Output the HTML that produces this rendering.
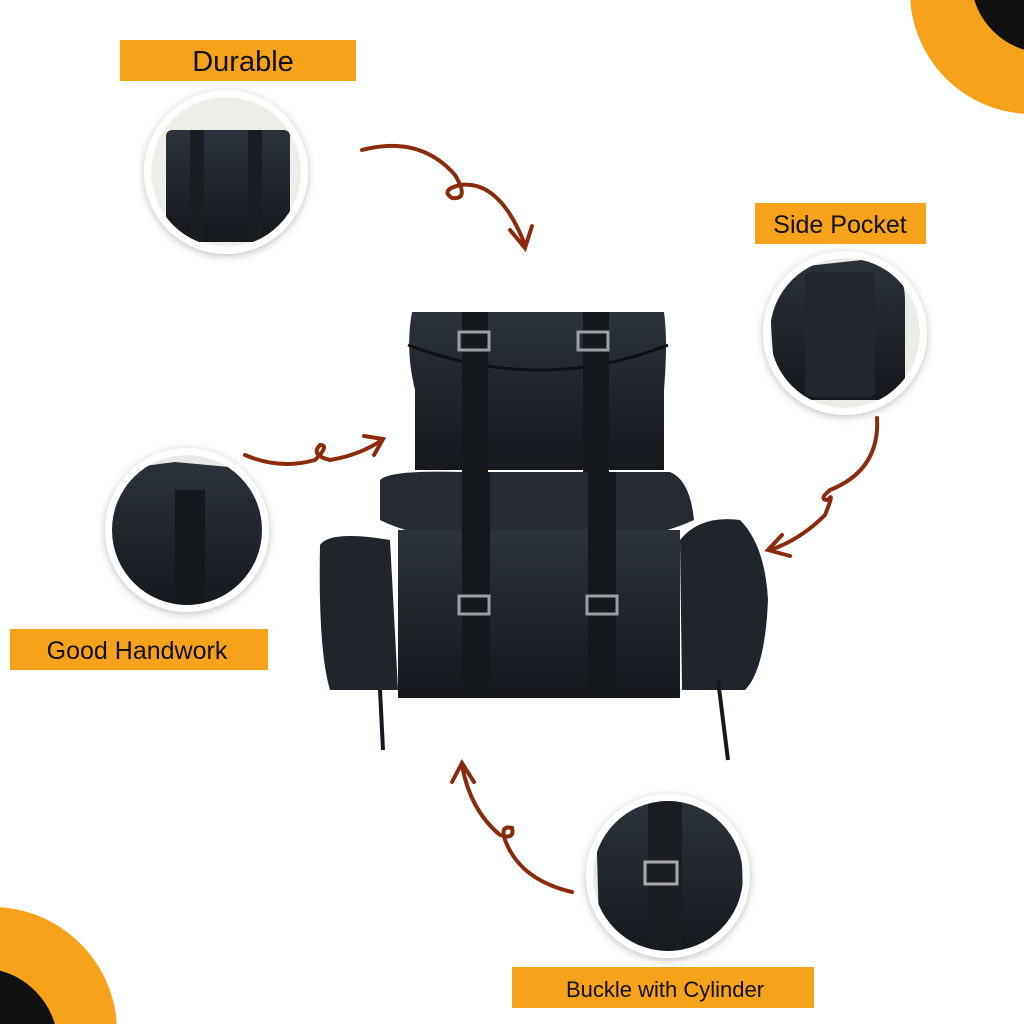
<!DOCTYPE html>
<html><head><meta charset="utf-8"><style>
html,body{margin:0;padding:0;background:#fff;width:1024px;height:1024px;overflow:hidden;}
svg{display:block}
text{font-family:"Liberation Sans",sans-serif;}
</style></head><body>
<svg width="1024" height="1024" viewBox="0 0 1024 1024" xmlns="http://www.w3.org/2000/svg">
<defs>
<filter id="sh" x="-30%" y="-30%" width="160%" height="160%"><feDropShadow dx="0" dy="2" stdDeviation="4" flood-opacity="0.25"/></filter>
<linearGradient id="lg" x1="0" y1="0" x2="0" y2="1"><stop offset="0" stop-color="#2c323b"/><stop offset="1" stop-color="#15181d"/></linearGradient>
<clipPath id="c1"><circle cx="226" cy="172" r="75"/></clipPath>
<clipPath id="c2"><circle cx="845" cy="333" r="75"/></clipPath>
<clipPath id="c3"><circle cx="187" cy="530" r="75"/></clipPath>
<clipPath id="c4"><circle cx="668" cy="876" r="75"/></clipPath>
</defs>
<circle cx="1032" cy="-8" r="122" fill="#f7a21b"/>
<circle cx="1046" cy="-22" r="75" fill="#111"/>
<circle cx="-8" cy="1032" r="125" fill="#f7a21b"/>
<circle cx="-20" cy="1046" r="78" fill="#111"/>
<rect x="120" y="40" width="236" height="41" fill="#f7a21b"/>
<text x="243" y="71" font-size="29" text-anchor="middle" fill="#111">Durable</text>
<rect x="755" y="203" width="171" height="41" fill="#f7a21b"/>
<text x="840" y="233" font-size="25" text-anchor="middle" fill="#111">Side Pocket</text>
<rect x="10" y="629" width="258" height="41" fill="#f7a21b"/>
<text x="137" y="659" font-size="25" text-anchor="middle" fill="#111">Good Handwork</text>
<rect x="512" y="967" width="302" height="41" fill="#f7a21b"/>
<text x="665" y="997" font-size="22" text-anchor="middle" fill="#111">Buckle with Cylinder</text>
<g filter="url(#sh)">
<circle cx="226" cy="172" r="82" fill="#fff"/>
<circle cx="845" cy="333" r="82" fill="#fff"/>
<circle cx="187" cy="530" r="82" fill="#fff"/>
<circle cx="668" cy="876" r="82" fill="#fff"/>
</g>
<g clip-path="url(#c1)">
<circle cx="226" cy="172" r="75" fill="#eeeee8"/>
<rect x="166" y="130" width="124" height="112" rx="6" fill="url(#lg)"/>
<rect x="190" y="130" width="14" height="112" fill="#1a1d22"/><rect x="248" y="130" width="14" height="112" fill="#1a1d22"/>
</g>
<g clip-path="url(#c2)">
<circle cx="845" cy="333" r="75" fill="#ecebe6"/>
<path d="M770,270 L880,258 Q905,270 905,300 L905,400 L780,400 Q770,360 770,270Z" fill="url(#lg)"/>
<rect x="805" y="272" width="70" height="125" rx="5" fill="#22272e"/>
</g>
<g clip-path="url(#c3)">
<circle cx="187" cy="530" r="75" fill="#e8e8e4"/>
<path d="M112,470 L175,462 L262,470 L262,610 L112,610Z" fill="url(#lg)"/>
<rect x="175" y="490" width="30" height="120" fill="#15181c"/>
</g>
<g clip-path="url(#c4)">
<circle cx="668" cy="876" r="75" fill="#e8e8e4"/>
<path d="M596,820 Q600,800 640,800 L740,800 L745,960 L600,960Z" fill="url(#lg)"/>
<rect x="648" y="800" width="34" height="160" fill="#1a1d22"/>
<rect x="645" y="862" width="32" height="22" fill="none" stroke="#aaa" stroke-width="3"/>
</g>
<g fill="none" stroke="#8a2b0d" stroke-width="4" stroke-linecap="round">
<path d="M362,150 Q420,135 455,175 Q470,200 452,198 Q440,190 460,185 Q500,180 525,245"/>
<path d="M510,230 L525,248 L532,226"/>
<path d="M245,455 Q280,470 315,460 Q330,445 320,445 Q310,455 330,460 Q360,455 382,440"/>
<path d="M364,436 L383,439 L374,455"/>
<path d="M877,418 Q880,470 830,490 Q818,500 828,500 Q835,490 825,515 Q800,540 770,550"/>
<path d="M782,535 L768,550 L790,556"/>
<path d="M572,892 Q520,880 505,840 Q500,825 512,828 Q515,840 500,835 Q470,810 462,765"/>
<path d="M452,782 L462,763 L474,782"/>
</g>
<g>
<path d="M412,312 L664,312 Q668,340 664,390 L664,470 L415,470 L415,390 Q405,350 412,312Z" fill="url(#lg)"/>
<path d="M408,345 Q540,395 668,345" fill="none" stroke="#0e1013" stroke-width="3"/>
<path d="M380,480 Q390,470 460,472 L670,472 Q690,480 694,520 Q640,545 540,545 Q430,545 380,520Z" fill="#262b33"/>
<rect x="398" y="530" width="282" height="168" fill="url(#lg)"/>
<path d="M320,545 Q330,530 390,540 L398,690 L330,690 Q318,650 320,545Z" fill="#20242b"/>
<path d="M680,540 Q700,515 740,520 Q765,545 768,600 Q765,670 745,690 L682,690Z" fill="#20242b"/>
<rect x="462" y="312" width="26" height="160" fill="#15181c"/>
<rect x="583" y="312" width="26" height="160" fill="#15181c"/>
<rect x="462" y="472" width="28" height="225" fill="#15181c"/>
<rect x="588" y="472" width="28" height="225" fill="#15181c"/>
<rect x="459" y="332" width="30" height="18" fill="none" stroke="#9aa0a6" stroke-width="3"/>
<rect x="578" y="332" width="30" height="18" fill="none" stroke="#9aa0a6" stroke-width="3"/>
<rect x="459" y="596" width="30" height="18" fill="none" stroke="#9aa0a6" stroke-width="3"/>
<rect x="587" y="596" width="30" height="18" fill="none" stroke="#9aa0a6" stroke-width="3"/>
<path d="M380,690 L383,750 M718,680 L728,760" stroke="#15181c" stroke-width="4"/>
</g>
</svg>
</body></html>
